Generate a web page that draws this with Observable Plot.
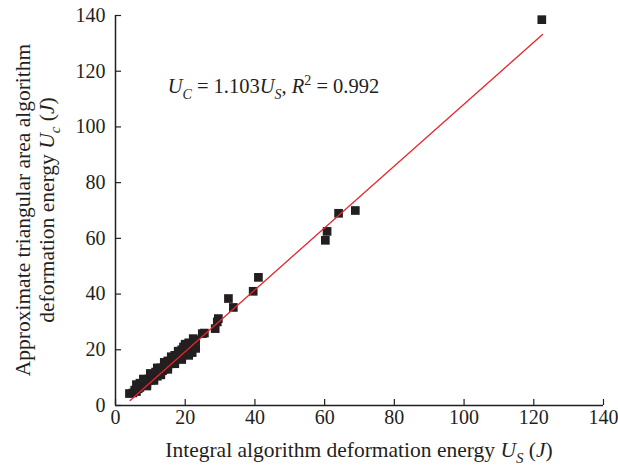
<!DOCTYPE html>
<html>
<head>
<meta charset="utf-8">
<script src="https://cdn.jsdelivr.net/npm/d3@7"></script>
<script src="https://cdn.jsdelivr.net/npm/@observablehq/plot@0.6"></script>
<style>
  html, body { margin: 0; padding: 0; background: #fff; }
  #chart svg { display: block; }
</style>
</head>
<body>
<div id="chart"></div>
<script>
// ---- data ----
const xTickValues = [0, 20, 40, 60, 80, 100, 120, 140];
const yTickValues = [0, 20, 40, 60, 80, 100, 120, 140];

// Integral algorithm deformation energy U_S (J)
const usValues = [4, 5, 5.5, 6, 6.5, 7, 7, 8, 8.5, 9, 9.5, 10, 10.5, 11, 11, 11.5, 12, 12, 12.5, 13,
  13, 13.5, 14, 14, 14.5, 15, 15, 15.5, 16, 16, 16.5, 17, 17, 17.5, 18, 18, 18.5, 19, 19, 19.5,
  20, 20, 20.5, 21, 21, 21.5, 22, 22, 22.3, 23, 23, 24.9, 25.5, 28.6, 29.5, 29.2, 32.4, 33.8,
  39.5, 41, 60.2, 60.7, 64, 68.8, 122.3,
  6, 8, 10, 12, 14, 16, 18, 20, 9, 11, 13, 15, 17, 19, 21];
// Approximate triangular area algorithm deformation energy U_c (J)
const ucValues = [4.3, 4.5, 5.5, 5, 6, 6.5, 8, 7.5, 8.5, 8, 9.5, 9, 10.5, 9.5, 11, 12, 10.5, 12.5, 11.5, 12,
  13.5, 12.5, 13, 15, 14, 14, 16, 15, 15, 17, 16, 16, 18, 17.5, 17, 19, 18, 17.5, 20, 21,
  18.5, 22, 20, 19, 22.5, 20.5, 19, 21, 24, 23.5, 20.5, 25.8, 26, 27.6, 31.2, 30, 38.4, 35.2,
  41, 46, 59.3, 62.5, 69, 70, 138.5,
  7.5, 9.5, 11.5, 13.5, 15.5, 17.5, 19.5, 21.5, 7, 9, 11, 13, 15, 16.5, 18];

// fitted line U_C = 1.103 U_S (end points as drawn)
const fitUs = [4.2, 122.5];
const fitUc = [1.8, 133.2];

const points = usValues.map((u, i) => ({us: u, uc: ucValues[i]}));
const fit = fitUs.map((u, i) => ({us: u, uc: fitUc[i]}));

const ink = "#231f20";
const red = "#e8262b";
const font = "'Liberation Serif', 'DejaVu Serif', serif";

const chart = Plot.plot({
  width: 618,
  height: 468,
  marginLeft: 115,
  marginRight: 15,
  marginTop: 15,
  marginBottom: 63,
  style: {fontFamily: font, fontSize: "20px", color: ink, background: "#fff"},
  x: {domain: [0, 140]},
  y: {domain: [0, 140]},
  marks: [
    Plot.axisX({ticks: xTickValues, tickSize: -6, tickPadding: 10, label: null, stroke: ink, strokeWidth: 1.2}),
    Plot.axisY({ticks: yTickValues, tickSize: -6, tickPadding: 16, label: null, stroke: ink, strokeWidth: 1.2}),
    Plot.ruleX([0], {stroke: ink, strokeWidth: 1.5}),
    Plot.ruleY([0], {stroke: ink, strokeWidth: 1.5}),
    Plot.dot(points, {x: "us", y: "uc", symbol: "square", r: 4.9, fill: ink, stroke: "none"}),
    Plot.line(fit, {x: "us", y: "uc", stroke: red, strokeWidth: 1.3})
  ]
});

document.getElementById("chart").appendChild(chart);

// ---- rich-text labels (italics, sub/superscripts) ----
const svg = d3.select(chart);
const sx = chart.scale("x"), sy = chart.scale("y");

function rich(g, size, parts) {
  let shift = 0;
  parts.forEach(([t, o = {}]) => {
    const ts = g.append("tspan").text(t);
    if (o.italic) ts.attr("font-style", "italic");
    const target = o.sub ? 0.3 : o.sup ? -0.4 : 0;
    if (target !== shift) {
      ts.attr("dy", ((target - shift) * size) + "px");
      shift = target;
    }
    if (o.sub || o.sup) ts.attr("font-size", Math.round(size * 0.68) + "px");
  });
}

function label(attrs, size, parts) {
  const t = svg.append("text")
    .attr("fill", ink).attr("font-family", font).attr("font-size", size + "px")
    .attr("text-anchor", attrs.anchor || "start");
  if (attrs.transform) t.attr("transform", attrs.transform);
  if (attrs.x != null) t.attr("x", attrs.x);
  if (attrs.y != null) t.attr("y", attrs.y);
  rich(t, size, parts);
  return t;
}

const yMid = (sy.apply(0) + sy.apply(140)) / 2;
// y label (two lines)
label({transform: `translate(30,${yMid}) rotate(-90)`, anchor: "middle"}, 21.5,
  [["Approximate triangular area algorithm"]]);
label({transform: `translate(54,${yMid}) rotate(-90)`, anchor: "middle"}, 21.5,
  [["deformation energy "], ["U", {italic: true}], ["c", {italic: true, sub: true}], [" ("], ["J", {italic: true}], [")"]]);

// x label
label({x: (sx.apply(0) + sx.apply(140)) / 2, y: 457, anchor: "middle"}, 21.5,
  [["Integral algorithm deformation energy "], ["U", {italic: true}], ["S", {italic: true, sub: true}], [" ("], ["J", {italic: true}], [")"]]);

// annotation
label({x: sx.apply(15.1), y: sy.apply(112), anchor: "start"}, 20.5,
  [["U", {italic: true}], ["C", {italic: true, sub: true}], [" = 1.103"], ["U", {italic: true}], ["S", {italic: true, sub: true}], [", "], ["R", {italic: true}], ["2", {sup: true}], [" = 0.992"]]);
</script>
</body>
</html>
